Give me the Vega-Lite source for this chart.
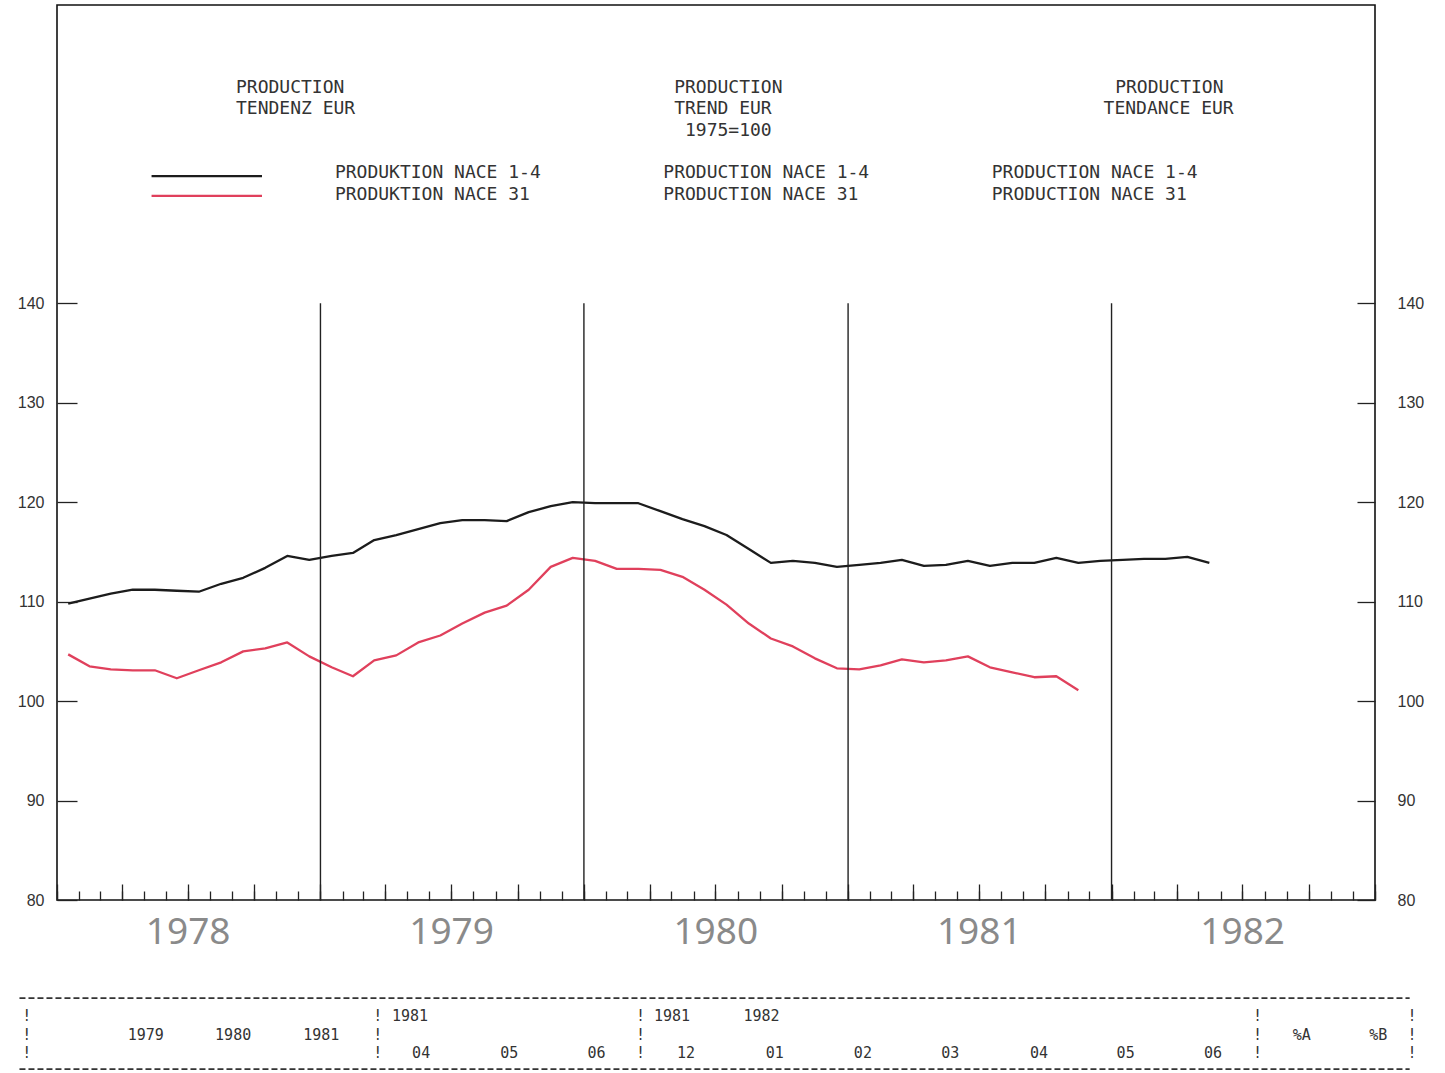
{
  "$schema": "https://vega.github.io/schema/vega-lite/v6.json",
  "width": 1318,
  "height": 895,
  "autosize": "none",
  "padding": {"left": 57, "top": 5, "right": 70, "bottom": 173},
  "background": "white",
  "config": {"view": {"stroke": "#111", "strokeWidth": 1.6}, "font": "Liberation Sans"},
  "datasets": {
    "series": [
      {"month": "1978-01-01", "series": "NACE 1-4", "value": 109.8},
      {"month": "1978-02-01", "series": "NACE 1-4", "value": 110.3},
      {"month": "1978-03-01", "series": "NACE 1-4", "value": 110.8},
      {"month": "1978-04-01", "series": "NACE 1-4", "value": 111.2},
      {"month": "1978-05-01", "series": "NACE 1-4", "value": 111.2},
      {"month": "1978-06-01", "series": "NACE 1-4", "value": 111.1},
      {"month": "1978-07-01", "series": "NACE 1-4", "value": 111.0},
      {"month": "1978-08-01", "series": "NACE 1-4", "value": 111.8},
      {"month": "1978-09-01", "series": "NACE 1-4", "value": 112.4},
      {"month": "1978-10-01", "series": "NACE 1-4", "value": 113.4},
      {"month": "1978-11-01", "series": "NACE 1-4", "value": 114.6},
      {"month": "1978-12-01", "series": "NACE 1-4", "value": 114.2},
      {"month": "1979-01-01", "series": "NACE 1-4", "value": 114.6},
      {"month": "1979-02-01", "series": "NACE 1-4", "value": 114.9},
      {"month": "1979-03-01", "series": "NACE 1-4", "value": 116.2},
      {"month": "1979-04-01", "series": "NACE 1-4", "value": 116.7},
      {"month": "1979-05-01", "series": "NACE 1-4", "value": 117.3},
      {"month": "1979-06-01", "series": "NACE 1-4", "value": 117.9},
      {"month": "1979-07-01", "series": "NACE 1-4", "value": 118.2},
      {"month": "1979-08-01", "series": "NACE 1-4", "value": 118.2},
      {"month": "1979-09-01", "series": "NACE 1-4", "value": 118.1},
      {"month": "1979-10-01", "series": "NACE 1-4", "value": 119.0},
      {"month": "1979-11-01", "series": "NACE 1-4", "value": 119.6},
      {"month": "1979-12-01", "series": "NACE 1-4", "value": 120.0},
      {"month": "1980-01-01", "series": "NACE 1-4", "value": 119.9},
      {"month": "1980-02-01", "series": "NACE 1-4", "value": 119.9},
      {"month": "1980-03-01", "series": "NACE 1-4", "value": 119.9},
      {"month": "1980-04-01", "series": "NACE 1-4", "value": 119.1},
      {"month": "1980-05-01", "series": "NACE 1-4", "value": 118.3},
      {"month": "1980-06-01", "series": "NACE 1-4", "value": 117.6},
      {"month": "1980-07-01", "series": "NACE 1-4", "value": 116.7},
      {"month": "1980-08-01", "series": "NACE 1-4", "value": 115.3},
      {"month": "1980-09-01", "series": "NACE 1-4", "value": 113.9},
      {"month": "1980-10-01", "series": "NACE 1-4", "value": 114.1},
      {"month": "1980-11-01", "series": "NACE 1-4", "value": 113.9},
      {"month": "1980-12-01", "series": "NACE 1-4", "value": 113.5},
      {"month": "1981-01-01", "series": "NACE 1-4", "value": 113.7},
      {"month": "1981-02-01", "series": "NACE 1-4", "value": 113.9},
      {"month": "1981-03-01", "series": "NACE 1-4", "value": 114.2},
      {"month": "1981-04-01", "series": "NACE 1-4", "value": 113.6},
      {"month": "1981-05-01", "series": "NACE 1-4", "value": 113.7},
      {"month": "1981-06-01", "series": "NACE 1-4", "value": 114.1},
      {"month": "1981-07-01", "series": "NACE 1-4", "value": 113.6},
      {"month": "1981-08-01", "series": "NACE 1-4", "value": 113.9},
      {"month": "1981-09-01", "series": "NACE 1-4", "value": 113.9},
      {"month": "1981-10-01", "series": "NACE 1-4", "value": 114.4},
      {"month": "1981-11-01", "series": "NACE 1-4", "value": 113.9},
      {"month": "1981-12-01", "series": "NACE 1-4", "value": 114.1},
      {"month": "1982-01-01", "series": "NACE 1-4", "value": 114.2},
      {"month": "1982-02-01", "series": "NACE 1-4", "value": 114.3},
      {"month": "1982-03-01", "series": "NACE 1-4", "value": 114.3},
      {"month": "1982-04-01", "series": "NACE 1-4", "value": 114.5},
      {"month": "1982-05-01", "series": "NACE 1-4", "value": 113.9},
      {"month": "1978-01-01", "series": "NACE 31", "value": 104.7},
      {"month": "1978-02-01", "series": "NACE 31", "value": 103.5},
      {"month": "1978-03-01", "series": "NACE 31", "value": 103.2},
      {"month": "1978-04-01", "series": "NACE 31", "value": 103.1},
      {"month": "1978-05-01", "series": "NACE 31", "value": 103.1},
      {"month": "1978-06-01", "series": "NACE 31", "value": 102.3},
      {"month": "1978-07-01", "series": "NACE 31", "value": 103.1},
      {"month": "1978-08-01", "series": "NACE 31", "value": 103.9},
      {"month": "1978-09-01", "series": "NACE 31", "value": 105.0},
      {"month": "1978-10-01", "series": "NACE 31", "value": 105.3},
      {"month": "1978-11-01", "series": "NACE 31", "value": 105.9},
      {"month": "1978-12-01", "series": "NACE 31", "value": 104.5},
      {"month": "1979-01-01", "series": "NACE 31", "value": 103.4},
      {"month": "1979-02-01", "series": "NACE 31", "value": 102.5},
      {"month": "1979-03-01", "series": "NACE 31", "value": 104.1},
      {"month": "1979-04-01", "series": "NACE 31", "value": 104.6},
      {"month": "1979-05-01", "series": "NACE 31", "value": 105.9},
      {"month": "1979-06-01", "series": "NACE 31", "value": 106.6},
      {"month": "1979-07-01", "series": "NACE 31", "value": 107.8},
      {"month": "1979-08-01", "series": "NACE 31", "value": 108.9},
      {"month": "1979-09-01", "series": "NACE 31", "value": 109.6},
      {"month": "1979-10-01", "series": "NACE 31", "value": 111.2},
      {"month": "1979-11-01", "series": "NACE 31", "value": 113.5},
      {"month": "1979-12-01", "series": "NACE 31", "value": 114.4},
      {"month": "1980-01-01", "series": "NACE 31", "value": 114.1},
      {"month": "1980-02-01", "series": "NACE 31", "value": 113.3},
      {"month": "1980-03-01", "series": "NACE 31", "value": 113.3},
      {"month": "1980-04-01", "series": "NACE 31", "value": 113.2},
      {"month": "1980-05-01", "series": "NACE 31", "value": 112.5},
      {"month": "1980-06-01", "series": "NACE 31", "value": 111.2},
      {"month": "1980-07-01", "series": "NACE 31", "value": 109.7},
      {"month": "1980-08-01", "series": "NACE 31", "value": 107.8},
      {"month": "1980-09-01", "series": "NACE 31", "value": 106.3},
      {"month": "1980-10-01", "series": "NACE 31", "value": 105.5},
      {"month": "1980-11-01", "series": "NACE 31", "value": 104.3},
      {"month": "1980-12-01", "series": "NACE 31", "value": 103.3},
      {"month": "1981-01-01", "series": "NACE 31", "value": 103.2},
      {"month": "1981-02-01", "series": "NACE 31", "value": 103.6},
      {"month": "1981-03-01", "series": "NACE 31", "value": 104.2},
      {"month": "1981-04-01", "series": "NACE 31", "value": 103.9},
      {"month": "1981-05-01", "series": "NACE 31", "value": 104.1},
      {"month": "1981-06-01", "series": "NACE 31", "value": 104.5},
      {"month": "1981-07-01", "series": "NACE 31", "value": 103.4},
      {"month": "1981-08-01", "series": "NACE 31", "value": 102.9},
      {"month": "1981-09-01", "series": "NACE 31", "value": 102.4},
      {"month": "1981-10-01", "series": "NACE 31", "value": 102.5},
      {"month": "1981-11-01", "series": "NACE 31", "value": 101.1}
    ],
    "years": [
      {"d": "1979-01-01"}, {"d": "1980-01-01"}, {"d": "1981-01-01"}, {"d": "1982-01-01"}
    ],
    "notes": [
      {"t": "PRODUCTION", "d": "1978-09-06", "v": 161.7},
      {"t": "TENDENZ EUR", "d": "1978-09-06", "v": 159.5},
      {"t": "PRODUCTION", "d": "1980-05-05", "v": 161.7},
      {"t": "TREND EUR", "d": "1980-05-05", "v": 159.5},
      {"t": "1975=100", "d": "1980-05-20", "v": 157.3},
      {"t": "PRODUCTION", "d": "1982-01-06", "v": 161.7},
      {"t": "TENDANCE EUR", "d": "1981-12-21", "v": 159.5},
      {"t": "PRODUKTION NACE 1-4", "d": "1979-01-21", "v": 153.1},
      {"t": "PRODUKTION NACE 31", "d": "1979-01-21", "v": 150.9},
      {"t": "PRODUCTION NACE 1-4", "d": "1980-04-20", "v": 153.1},
      {"t": "PRODUCTION NACE 31", "d": "1980-04-20", "v": 150.9},
      {"t": "PRODUCTION NACE 1-4", "d": "1981-07-19", "v": 153.1},
      {"t": "PRODUCTION NACE 31", "d": "1981-07-19", "v": 150.9}
    ],
    "legendLines": [
      {"series": "NACE 1-4", "d1": "1978-05-12", "d2": "1978-10-12", "v": 152.8},
      {"series": "NACE 31", "d1": "1978-05-12", "d2": "1978-10-12", "v": 150.8}
    ],
    "table": [
      {"t": "!", "d": "1977-11-14", "v": 68.33},
      {"t": "!", "d": "1979-03-15", "v": 68.33},
      {"t": "1981", "d": "1979-04-10", "v": 68.33},
      {"t": "!", "d": "1980-03-13", "v": 68.33},
      {"t": "1981", "d": "1980-04-07", "v": 68.33},
      {"t": "1982", "d": "1980-08-09", "v": 68.33},
      {"t": "!", "d": "1982-07-16", "v": 68.33},
      {"t": "!", "d": "1983-02-15", "v": 68.33},
      {"t": "!", "d": "1977-11-14", "v": 66.42},
      {"t": "1979", "d": "1978-04-09", "v": 66.42},
      {"t": "1980", "d": "1978-08-08", "v": 66.42},
      {"t": "1981", "d": "1978-12-08", "v": 66.42},
      {"t": "!", "d": "1979-03-15", "v": 66.42},
      {"t": "!", "d": "1980-03-13", "v": 66.42},
      {"t": "!", "d": "1982-07-16", "v": 66.42},
      {"t": "%A", "d": "1982-09-09", "v": 66.42},
      {"t": "%B", "d": "1982-12-24", "v": 66.42},
      {"t": "!", "d": "1983-02-15", "v": 66.42},
      {"t": "!", "d": "1977-11-14", "v": 64.61},
      {"t": "!", "d": "1979-03-15", "v": 64.61},
      {"t": "04", "d": "1979-05-08", "v": 64.61},
      {"t": "05", "d": "1979-09-07", "v": 64.61},
      {"t": "06", "d": "1980-01-06", "v": 64.61},
      {"t": "!", "d": "1980-03-13", "v": 64.61},
      {"t": "12", "d": "1980-05-09", "v": 64.61},
      {"t": "01", "d": "1980-09-09", "v": 64.61},
      {"t": "02", "d": "1981-01-09", "v": 64.61},
      {"t": "03", "d": "1981-05-10", "v": 64.61},
      {"t": "04", "d": "1981-09-10", "v": 64.61},
      {"t": "05", "d": "1982-01-08", "v": 64.61},
      {"t": "06", "d": "1982-05-09", "v": 64.61},
      {"t": "!", "d": "1982-07-16", "v": 64.61},
      {"t": "!", "d": "1983-02-15", "v": 64.61}
    ],
    "tableLines": [
      {"d1": "1977-11-10", "d2": "1983-02-18", "v": 70.14},
      {"d1": "1977-11-10", "d2": "1983-02-18", "v": 63.0}
    ]
  },
  "resolve": {"axis": {"x": "independent", "y": "independent"}},
  "layer": [
    {
      "data": {"name": "series"},
      "mark": {"type": "line", "strokeWidth": 2.3, "strokeJoin": "round"},
      "encoding": {
        "x": {
          "field": "month", "type": "temporal", "timeUnit": "utcyearmonth", "bandPosition": 0.5,
          "scale": {"type": "utc", "nice": false, "domain": [{"year": 1978, "month": 1, "date": 1, "utc": true}, {"year": 1983, "month": 1, "date": 1, "utc": true}]},
          "axis": {"orient": "bottom", "tickCount": {"interval": "month", "step": 1}, "labels": false, "domain": false, "grid": false, "tickSize": -9, "tickColor": "#222", "tickWidth": 1.3, "title": null}
        },
        "y": {
          "field": "value", "type": "quantitative",
          "scale": {"domain": [80, 170], "nice": false, "zero": false},
          "axis": {"orient": "left", "values": [80, 90, 100, 110, 120, 130, 140], "tickSize": -20, "labelPadding": 33, "domain": false, "grid": false, "title": null, "labelFontSize": 16, "labelColor": "#333", "tickColor": "#222", "tickWidth": 1.3}
        },
        "color": {"field": "series", "type": "nominal", "scale": {"domain": ["NACE 1-4", "NACE 31"], "range": ["#1c1c1c", "#e0405c"]}, "legend": null}
      }
    },
    {
      "mark": {"type": "rule", "strokeDash": [4, 4], "color": "#333", "strokeWidth": 1},
      "encoding": {
        "y": {"datum": 100, "type": "quantitative",
          "axis": {"orient": "right", "values": [80, 90, 100, 110, 120, 130, 140], "tickSize": -18, "labelPadding": 40, "domain": false, "grid": false, "title": null, "labelFontSize": 16, "labelColor": "#333", "tickColor": "#222", "tickWidth": 1.3}}
      }
    },
    {
      "data": {"name": "years"},
      "mark": {"type": "rule", "color": "#222", "strokeWidth": 1.4},
      "encoding": {
        "x": {"field": "d", "type": "temporal", "scale": {"type": "utc"},
          "axis": {"orient": "bottom", "tickCount": {"interval": "month", "step": 3}, "labels": false, "domain": false, "grid": false, "tickSize": -16, "tickColor": "#222", "tickWidth": 1.3, "title": null}},
        "y": {"datum": 80, "type": "quantitative", "axis": null},
        "y2": {"datum": 140}
      }
    },
    {
      "data": {"name": "notes"},
      "mark": {"type": "text", "align": "left", "baseline": "middle", "font": "DejaVu Sans Mono", "fontSize": 18, "color": "#333"},
      "encoding": {
        "x": {"field": "d", "type": "temporal", "scale": {"type": "utc"},
          "axis": {"orient": "bottom", "values": [
            {"year": 1978, "month": 7, "date": 1, "utc": true},
            {"year": 1979, "month": 7, "date": 1, "utc": true},
            {"year": 1980, "month": 7, "date": 1, "utc": true},
            {"year": 1981, "month": 7, "date": 1, "utc": true},
            {"year": 1982, "month": 7, "date": 1, "utc": true}],
            "format": "%Y", "ticks": false, "domain": false, "grid": false, "labelFont": "Noto Sans", "labelFontSize": 37, "labelColor": "#8a8a8a", "labelPadding": 14, "labelFlush": false, "labelOverlap": false, "title": null}},
        "y": {"field": "v", "type": "quantitative", "axis": null},
        "text": {"field": "t"}
      }
    },
    {
      "data": {"name": "legendLines"},
      "mark": {"type": "rule", "strokeWidth": 2.3},
      "encoding": {
        "x": {"field": "d1", "type": "temporal", "axis": null},
        "x2": {"field": "d2"},
        "y": {"field": "v", "type": "quantitative", "axis": null},
        "color": {"field": "series", "type": "nominal", "legend": null}
      }
    },
    {
      "data": {"name": "table"},
      "mark": {"type": "text", "align": "left", "baseline": "middle", "font": "DejaVu Sans Mono", "fontSize": 15, "color": "#333"},
      "encoding": {
        "x": {"field": "d", "type": "temporal", "axis": null},
        "y": {"field": "v", "type": "quantitative", "axis": null},
        "text": {"field": "t"}
      }
    },
    {
      "data": {"name": "tableLines"},
      "mark": {"type": "rule", "strokeDash": [6, 3], "strokeWidth": 1.8, "color": "#333"},
      "encoding": {
        "x": {"field": "d1", "type": "temporal", "axis": null},
        "x2": {"field": "d2"},
        "y": {"field": "v", "type": "quantitative", "axis": null}
      }
    }
  ]
}
